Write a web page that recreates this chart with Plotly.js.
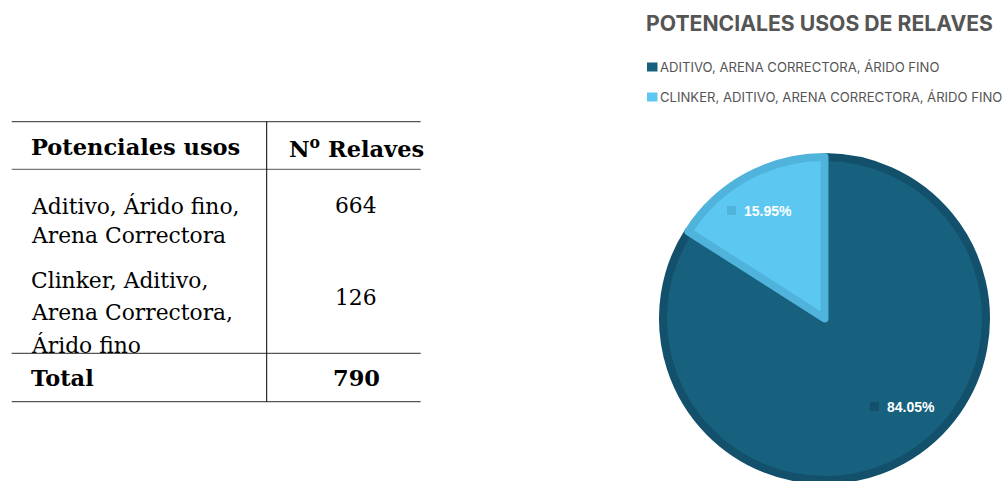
<!DOCTYPE html>
<html>
<head>
<meta charset="utf-8">
<script src="https://cdn.plot.ly/plotly-3.0.1.min.js"></script>
<style>html,body{margin:0;padding:0;background:#fff;overflow:hidden}</style>
</head>
<body>
<div id="chart" style="width:1008px;height:481px"></div>
<script>
// ---- data ----
const tableHeaders = ['Potenciales usos', 'N<sup>o</sup> Relaves'];
const usosLines = [
  ['Aditivo, Árido fino,', 'Arena Correctora'],
  ['Clinker, Aditivo,', 'Arena Correctora,', 'Árido fino']
];
const relaves = [664, 126];
const totalLabel = 'Total';
const pieTitle = 'POTENCIALES USOS DE RELAVES';
const pieLabels = ['ADITIVO, ARENA CORRECTORA, ÁRIDO FINO', 'CLINKER, ADITIVO, ARENA CORRECTORA, ÁRIDO FINO'];
const fillColors = ['#17607e', '#5cc8f2'];
const edgeColors = ['#12506b', '#4fb3dc'];

// ---- layout helpers ----
const W = 1008, H = 481;
const X = px => px / W;
const Y = py => 1 - py / H;

const total = relaves.reduce((a, b) => a + b, 0);
const serif = {family: 'DejaVu Serif', size: 21.8, color: '#000'};
const serifB = Object.assign({}, serif, {weight: 700, size: 22.5});

const annotations = [];
const shapes = [];
function ann(text, x, y, font, xanchor) {
  annotations.push({text: text, x: X(x), y: Y(y), xref: 'paper', yref: 'paper',
    xanchor: xanchor || 'left', yanchor: 'middle', showarrow: false, font: font});
}
function hline(y, x0, x1, color, w) {
  shapes.push({type: 'line', xref: 'paper', yref: 'paper', x0: X(x0), x1: X(x1), y0: Y(y), y1: Y(y),
    line: {color: color, width: w}});
}

// table rules
hline(121.7, 11.7, 420.7, '#555', 1.3);
hline(169.3, 11.7, 420.7, '#777', 1.3);
hline(353.3, 11.7, 420.7, '#555', 1.3);
hline(401.7, 11.7, 420.7, '#555', 1.3);
shapes.push({type: 'line', xref: 'paper', yref: 'paper', x0: X(266.7), x1: X(266.7), y0: Y(121.7), y1: Y(401.7),
  line: {color: '#000', width: 1}});

// table text
const colL = 29, colR = 356;
ann(tableHeaders[0], colL, 147.3, serifB);
ann(tableHeaders[1], colR, 147.3, serifB, 'center');
const rowLineY = [[205.8, 235.5], [280.5, 312.5, 344.5]];
const rowValY = [205.8, 297.5];
usosLines.forEach((lines, i) => {
  lines.forEach((t, j) => ann(t, colL, rowLineY[i][j], serif));
  ann(String(relaves[i]), colR, rowValY[i], serif, 'center');
});
ann(totalLabel, colL, 377.5, serifB);
ann(String(total), colR, 377.5, serifB, 'center');

// legend (custom)
const legY = [67, 97];
pieLabels.forEach((lab, i) => {
  shapes.push({type: 'rect', xref: 'paper', yref: 'paper', x0: X(647), x1: X(657.5), y0: Y(legY[i] + 4.5), y1: Y(legY[i] - 4.5),
    fillcolor: fillColors[i], line: {width: 0}});
  ann(lab, 658, legY[i], {family: 'Inter', size: 13.1, color: '#555'});
});

// slice labels
const labPos = [[870, 406.5], [727, 210.5]];
relaves.forEach((v, i) => {
  const [lx, ly] = labPos[i];
  shapes.push({type: 'rect', xref: 'paper', yref: 'paper', x0: X(lx), x1: X(lx + 9), y0: Y(ly + 4.5), y1: Y(ly - 4.5),
    fillcolor: edgeColors[i], line: {width: 0}});
  ann((v / total * 100).toFixed(2) + '%', lx + 15, ly, {family: 'Liberation Sans', size: 14, color: '#fff', weight: 700});
});

// pie geometry
const cx = 824.5, cy = 318.5, r = 161.5;

const data = [{
  type: 'pie',
  labels: pieLabels,
  values: relaves,
  sort: false,
  direction: 'clockwise',
  rotation: 0,
  textinfo: 'none',
  hoverinfo: 'label+value+percent',
  showlegend: false,
  marker: {colors: fillColors, line: {color: edgeColors, width: 8}},
  domain: {x: [X(cx - r), X(cx + r)], y: [Y(cy + r), Y(cy - r)]}
}];

const layout = {
  width: W, height: H,
  margin: {l: 0, r: 0, t: 0, b: 0},
  paper_bgcolor: '#fff',
  showlegend: false,
  title: {text: pieTitle, x: X(646), xanchor: 'left', xref: 'paper', y: Y(23.5), yref: 'container', yanchor: 'middle',
    font: {family: 'Inter', size: 21.2, color: '#555', weight: 700}},
  annotations: annotations,
  shapes: shapes
};

Plotly.newPlot('chart', data, layout, {displayModeBar: false, staticPlot: true});
</script>
</body>
</html>
